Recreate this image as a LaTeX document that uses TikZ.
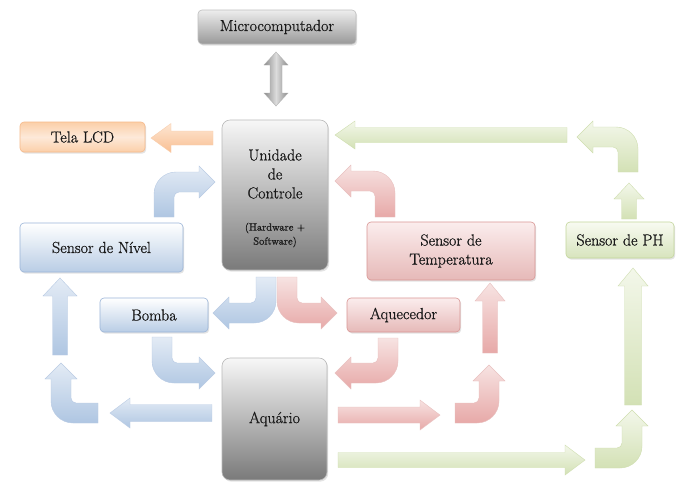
\documentclass[tikz,border=0pt]{standalone}
\usepackage{fontspec}
\newfontfamily\embf{Latin Modern Roman}[FakeBold=0.9]
\usetikzlibrary{calc,shadows}
\definecolor{grayTop}{HTML}{F7F7F7}
\definecolor{grayBot}{HTML}{7A7A7A}
\definecolor{microTop}{HTML}{EDEDED}
\definecolor{microBot}{HTML}{999999}
\definecolor{blueTop}{HTML}{FFFFFF}
\definecolor{blueBot}{HTML}{B9CDE5}
\definecolor{blueLine}{HTML}{9BB5D8}
\definecolor{pinkTop}{HTML}{FBEDED}
\definecolor{pinkBot}{HTML}{E6B9B8}
\definecolor{pinkLine}{HTML}{D99694}
\definecolor{greenTop}{HTML}{F8FAF1}
\definecolor{greenBot}{HTML}{D7E4BD}
\definecolor{greenLine}{HTML}{C3D69B}
\definecolor{orTop}{HTML}{FBCFA8}
\definecolor{orMid}{HTML}{FDE9D9}
\definecolor{orLine}{HTML}{F6B98A}
\definecolor{aBlueL}{HTML}{E3EBF5}
\definecolor{aBlueD}{HTML}{AFC6E2}
\definecolor{aPinkL}{HTML}{F7E3E2}
\definecolor{aPinkD}{HTML}{E7A9A8}
\definecolor{aGreenL}{HTML}{F3F7EA}
\definecolor{aGreenD}{HTML}{D3E1B5}
\definecolor{aOrL}{HTML}{FDE6D3}
\definecolor{aOrD}{HTML}{F9BF92}
\definecolor{aGrayL}{HTML}{DCDCDC}
\definecolor{aGrayD}{HTML}{8C8C8C}
\newcommand\myW{10pt}
\newcommand\myH{16pt}
\newcommand\myL{16pt}
% straight block arrow: style, A, B, half shaft, half head, head length
\newcommand\myStraight[6]{%
  \coordinate (sA) at #2; \coordinate (sB) at #3;
  \coordinate (sH) at ($(sB)!#6!(sA)$);
  \path[#1] ($(sA)!#4!90:(sB)$) -- ($(sH)!#4!90:(sB)$) -- ($(sH)!#5!90:(sB)$) -- (sB)
    -- ($(sH)!#5!-90:(sB)$) -- ($(sH)!#4!-90:(sB)$) -- ($(sA)!#4!-90:(sB)$) -- cycle;}
% double block arrow
\newcommand\myDouble[6]{%
  \coordinate (dA) at #2; \coordinate (dB) at #3;
  \coordinate (dH1) at ($(dA)!#6!(dB)$); \coordinate (dH2) at ($(dB)!#6!(dA)$);
  \path[#1] (dA) -- ($(dH1)!#5!90:(dB)$) -- ($(dH1)!#4!90:(dB)$) -- ($(dH2)!#4!-90:(dA)$)
    -- ($(dH2)!#5!-90:(dA)$) -- (dB) -- ($(dH2)!#5!90:(dA)$) -- ($(dH2)!#4!90:(dA)$)
    -- ($(dH1)!#4!-90:(dB)$) -- ($(dH1)!#5!-90:(dB)$) -- cycle;}
% bent block arrow: style, S, C, E, left radius, right radius
\newcommand\myBent[6]{%
  \coordinate (bS) at #2; \coordinate (bC) at #3; \coordinate (bE) at #4;
  \coordinate (bH) at ($(bE)!\myL!(bC)$);
  \coordinate (bSl) at ($(bS)!\myW!90:(bC)$);
  \coordinate (bSr) at ($(bS)!\myW!-90:(bC)$);
  \coordinate (bHl) at ($(bH)!\myW!90:(bE)$);
  \coordinate (bHr) at ($(bH)!\myW!-90:(bE)$);
  \coordinate (bTl) at ($(bH)!\myH!90:(bE)$);
  \coordinate (bTr) at ($(bH)!\myH!-90:(bE)$);
  \coordinate (bCl) at ($(bC)+(bSl)-(bS)+(bHl)-(bH)$);
  \coordinate (bCr) at ($(bC)+(bSr)-(bS)+(bHr)-(bH)$);
  \coordinate (bCla) at ($(bCl)!#5!(bSl)$);
  \coordinate (bClb) at ($(bCl)!#5!(bHl)$);
  \coordinate (bCra) at ($(bCr)!#6!(bSr)$);
  \coordinate (bCrb) at ($(bCr)!#6!(bHr)$);
  \path[#1] (bSr) -- (bCra) .. controls ($(bCra)!0.552!(bCr)$) and ($(bCrb)!0.552!(bCr)$) .. (bCrb)
    -- (bHr) -- (bTr) -- (bE) -- (bTl) -- (bHl)
    -- (bClb) .. controls ($(bClb)!0.552!(bCl)$) and ($(bCla)!0.552!(bCl)$) .. (bCla)
    -- (bSl) -- cycle;}
\begin{document}
\begin{tikzpicture}[x=1pt,y=-1pt,
  txt/.style={font=\embf\fontsize{16}{19}\selectfont, text=black!90, align=center},
  smalltxt/.style={font=\embf\fontsize{10.5}{14}\selectfont, text=black!90, align=center},
  boxbase/.style={rounded corners=4pt, line width=0.6pt, inner sep=0pt, txt,
    drop shadow={opacity=0.22, shadow xshift=1.2pt, shadow yshift=-1.6pt}},
  graybox/.style={boxbase, rounded corners=8pt, draw=gray!55, top color=grayTop, bottom color=grayBot},
  microbox/.style={boxbase, draw=gray!50, top color=microTop, bottom color=microBot},
  bluebox/.style={boxbase, draw=blueLine, top color=blueTop, bottom color=blueBot},
  pinkbox/.style={boxbase, draw=pinkLine, top color=pinkTop, bottom color=pinkBot},
  greenbox/.style={boxbase, draw=greenLine, top color=greenTop, bottom color=greenBot},
  orbox/.style={boxbase, draw=orLine, top color=orTop, bottom color=orTop, middle color=orMid},
  bluearrow/.style={draw=blueLine!70, line width=0.4pt, top color=aBlueL, bottom color=aBlueD},
  pinkarrow/.style={draw=pinkLine!60, line width=0.4pt, top color=aPinkL, bottom color=aPinkD},
  greenarrow/.style={draw=greenLine!80, line width=0.4pt, top color=aGreenL, bottom color=aGreenD},
  orarrow/.style={draw=orLine!70, line width=0.4pt, top color=aOrL, bottom color=aOrD},
  grayarrow/.style={draw=gray!60, line width=0.4pt, left color=aGrayD, right color=aGrayD, middle color=aGrayL}]
\useasboundingbox (0,0) rectangle (682,483);
\fill[white] (0,0) rectangle (682,483);

% boxes
\node[microbox, minimum width=158pt, minimum height=34pt] (micro) at (277,27) {Microcomputador};
\node[orbox, minimum width=125pt, minimum height=30pt] (lcd) at (82.5,137) {Tela LCD};
\node[graybox, minimum width=106pt, minimum height=150pt] (uc) at (275,195) {};
\node[txt] (uct) at (275,174) {Unidade\\de\\Controle};
\node[smalltxt] (ucs) at (275,235) {(Hardware +\\Software)};
\node[bluebox, minimum width=163pt, minimum height=49pt] (nivel) at (101.5,247.5) {Sensor de Nível};
\node[pinkbox, minimum width=168pt, minimum height=58pt] (temp) at (451,251) {Sensor de\\Temperatura};
\node[greenbox, minimum width=108pt, minimum height=36pt] (ph) at (620,240) {Sensor de PH};
\node[bluebox, minimum width=108pt, minimum height=34pt] (bomba) at (154,315) {Bomba};
\node[pinkbox, minimum width=113pt, minimum height=34pt] (aquec) at (403.5,315) {Aquecedor};
\node[graybox, minimum width=105pt, minimum height=122pt] (aqua) at (274.5,419) {Aquário};

% straight arrows
\myDouble{grayarrow}{(276,52)}{(276,106)}{6pt}{12pt}{13pt}
\myStraight{orarrow}{(213,138)}{(151,138)}{7pt}{14.5pt}{20pt}
\myStraight{greenarrow}{(567,135)}{(335,135)}{7.5pt}{14pt}{20pt}
\myStraight{greenarrow}{(629,219)}{(629,183)}{7.5pt}{15pt}{16pt}
\myStraight{greenarrow}{(633,405)}{(633,268)}{8.5pt}{15pt}{18pt}
\myStraight{greenarrow}{(338,460)}{(585,460)}{7.5pt}{15pt}{20pt}
\myStraight{pinkarrow}{(490,353)}{(490,283)}{7.5pt}{15pt}{18pt}
\myStraight{pinkarrow}{(338,415)}{(440,415)}{8pt}{15pt}{20pt}
\myStraight{bluearrow}{(212,413)}{(110,413)}{8.5pt}{15pt}{20pt}
\myStraight{bluearrow}{(60,355)}{(60,278)}{7.5pt}{17pt}{18pt}

% bent arrows
\myBent{greenarrow}{(628,172)}{(628,137)}{(577,137)}{5pt}{22pt}
\myBent{pinkarrow}{(385,217)}{(385,181)}{(335,181)}{5pt}{22pt}
\myBent{bluearrow}{(164,217)}{(164,182)}{(215,182)}{22pt}{5pt}
\myBent{bluearrow}{(266,277)}{(266,313)}{(213,313)}{22pt}{5pt}
\myBent{pinkarrow}{(287,277)}{(287,313)}{(337,313)}{5pt}{22pt}
\myBent{bluearrow}{(162,337)}{(162,373)}{(215,373)}{5pt}{22pt}
\myBent{pinkarrow}{(388,338)}{(388,373)}{(335,373)}{22pt}{5pt}
\myBent{pinkarrow}{(455,413)}{(489,413)}{(489,365)}{5pt}{22pt}
\myBent{greenarrow}{(595,458)}{(632,458)}{(632,410)}{5pt}{22pt}
\myBent{bluearrow}{(98,413)}{(61,413)}{(61,363)}{22pt}{5pt}
\end{tikzpicture}
\end{document}
